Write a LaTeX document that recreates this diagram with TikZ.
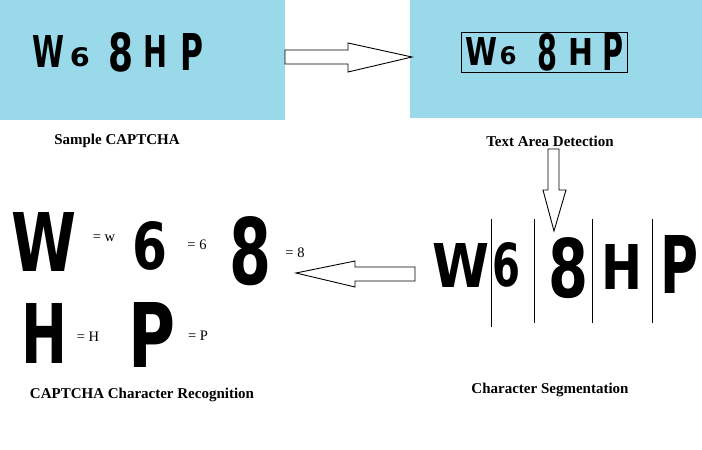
\documentclass[tikz,border=0pt]{standalone}
\usepackage{fontspec}
\usepackage{graphicx}
\setmainfont{Liberation Serif}
\newfontfamily\glyphfont{DejaVu Sans}
\definecolor{capblue}{HTML}{99D9EA}
\newcommand{\cglyph}[3]{\resizebox{#1pt}{#2pt}{\glyphfont\bfseries #3}}
\tikzset{
  panel/.style={fill=capblue, draw=none},
  glyph/.style={inner sep=0pt, outer sep=0pt, anchor=center},
  caption/.style={inner sep=0pt, font=\fontsize{15}{17}\selectfont\bfseries},
  eqlabel/.style={inner sep=0pt, font=\fontsize{14.5}{16}\selectfont},
  bigarrow/.style={draw=black, line width=0.9pt, fill=white, line join=miter},
  segline/.style={draw=black, line width=0.8pt},
}
\begin{document}
\begin{tikzpicture}[x=1pt, y=-1pt]
\useasboundingbox (0,0) rectangle (702,450);
% panels
\fill[panel] (0,0) rectangle (285,120);
\fill[panel] (410,0) rectangle (702,118);
% sample captcha
\node[glyph] (s1) at (49,51) {\cglyph{32}{32}{W}};
\node[glyph] (s2) at (80,57.5) {\cglyph{20}{19}{6}};
\node[glyph] (s3) at (121,52) {\cglyph{25}{39}{8}};
\node[glyph] (s4) at (155,51) {\cglyph{24}{32}{H}};
\node[glyph] (s5) at (192,52) {\cglyph{23}{37}{P}};
\node[caption] (c1) at (117,141) {Sample CAPTCHA};
% text area detection
\node[glyph] (t1) at (481,51) {\cglyph{32}{28}{W}};
\node[glyph] (t2) at (508,56) {\cglyph{17}{18}{6}};
\node[glyph] (t3) at (547,52) {\cglyph{20}{37}{8}};
\node[glyph] (t4) at (581,52) {\cglyph{25}{27}{H}};
\node[glyph] (t5) at (613,51) {\cglyph{21}{38}{P}};
\node[draw=black, line width=0.9pt, minimum width=166pt, minimum height=40pt, inner sep=0pt] (tbox) at (544,52) {};
\node[caption] (c2) at (550,141) {Text Area Detection};
% segmentation
\node[glyph] (g1) at (461,265) {\cglyph{57}{44}{W}};
\node[glyph] (g2) at (506,265) {\cglyph{28}{44}{6}};
\node[glyph] (g3) at (568,268) {\cglyph{40}{60}{8}};
\node[glyph] (g4) at (622,267) {\cglyph{41}{45}{H}};
\node[glyph] (g5) at (679,264) {\cglyph{38}{58}{P}};
\coordinate (l1a) at (491,219); \coordinate (l1b) at (491,327);
\coordinate (l2a) at (534,219); \coordinate (l2b) at (534,323);
\coordinate (l3a) at (592,219); \coordinate (l3b) at (592,323);
\coordinate (l4a) at (652,219); \coordinate (l4b) at (652,323);
\draw[segline] (l1a) -- (l1b);
\draw[segline] (l2a) -- (l2b);
\draw[segline] (l3a) -- (l3b);
\draw[segline] (l4a) -- (l4b);
\node[caption] (c3) at (550,390) {Character Segmentation};
% recognition
\node[glyph] (r1) at (44,242) {\cglyph{65}{59}{W}};
\node[eqlabel] (e1) at (104,238) {= w};
\node[glyph] (r2) at (150,246) {\cglyph{35}{48}{6}};
\node[eqlabel] (e2) at (197,245) {= 6};
\node[glyph] (r3) at (251,251) {\cglyph{42}{68}{8}};
\node[eqlabel] (e3) at (295,253) {= 8};
\node[glyph] (r4) at (45,333) {\cglyph{46}{60}{H}};
\node[eqlabel] (e4) at (88,337) {= H};
\node[glyph] (r5) at (152,335) {\cglyph{47}{65}{P}};
\node[eqlabel] (e5) at (198,336) {= P};
\node[caption] (c4) at (142,395) {CAPTCHA Character Recognition};
% arrows
\draw[bigarrow] (285,50) -- (348,50) -- (348,43) -- (412,57) -- (348,72) -- (348,64) -- (285,64) -- cycle;
\draw[bigarrow] (548,149) -- (559,149) -- (559,190) -- (566,190) -- (554,231) -- (543,190) -- (548,190) -- cycle;
\draw[bigarrow] (415,267) -- (355,267) -- (355,261) -- (296,273) -- (355,287) -- (355,281) -- (415,281) -- cycle;
\end{tikzpicture}
\end{document}
